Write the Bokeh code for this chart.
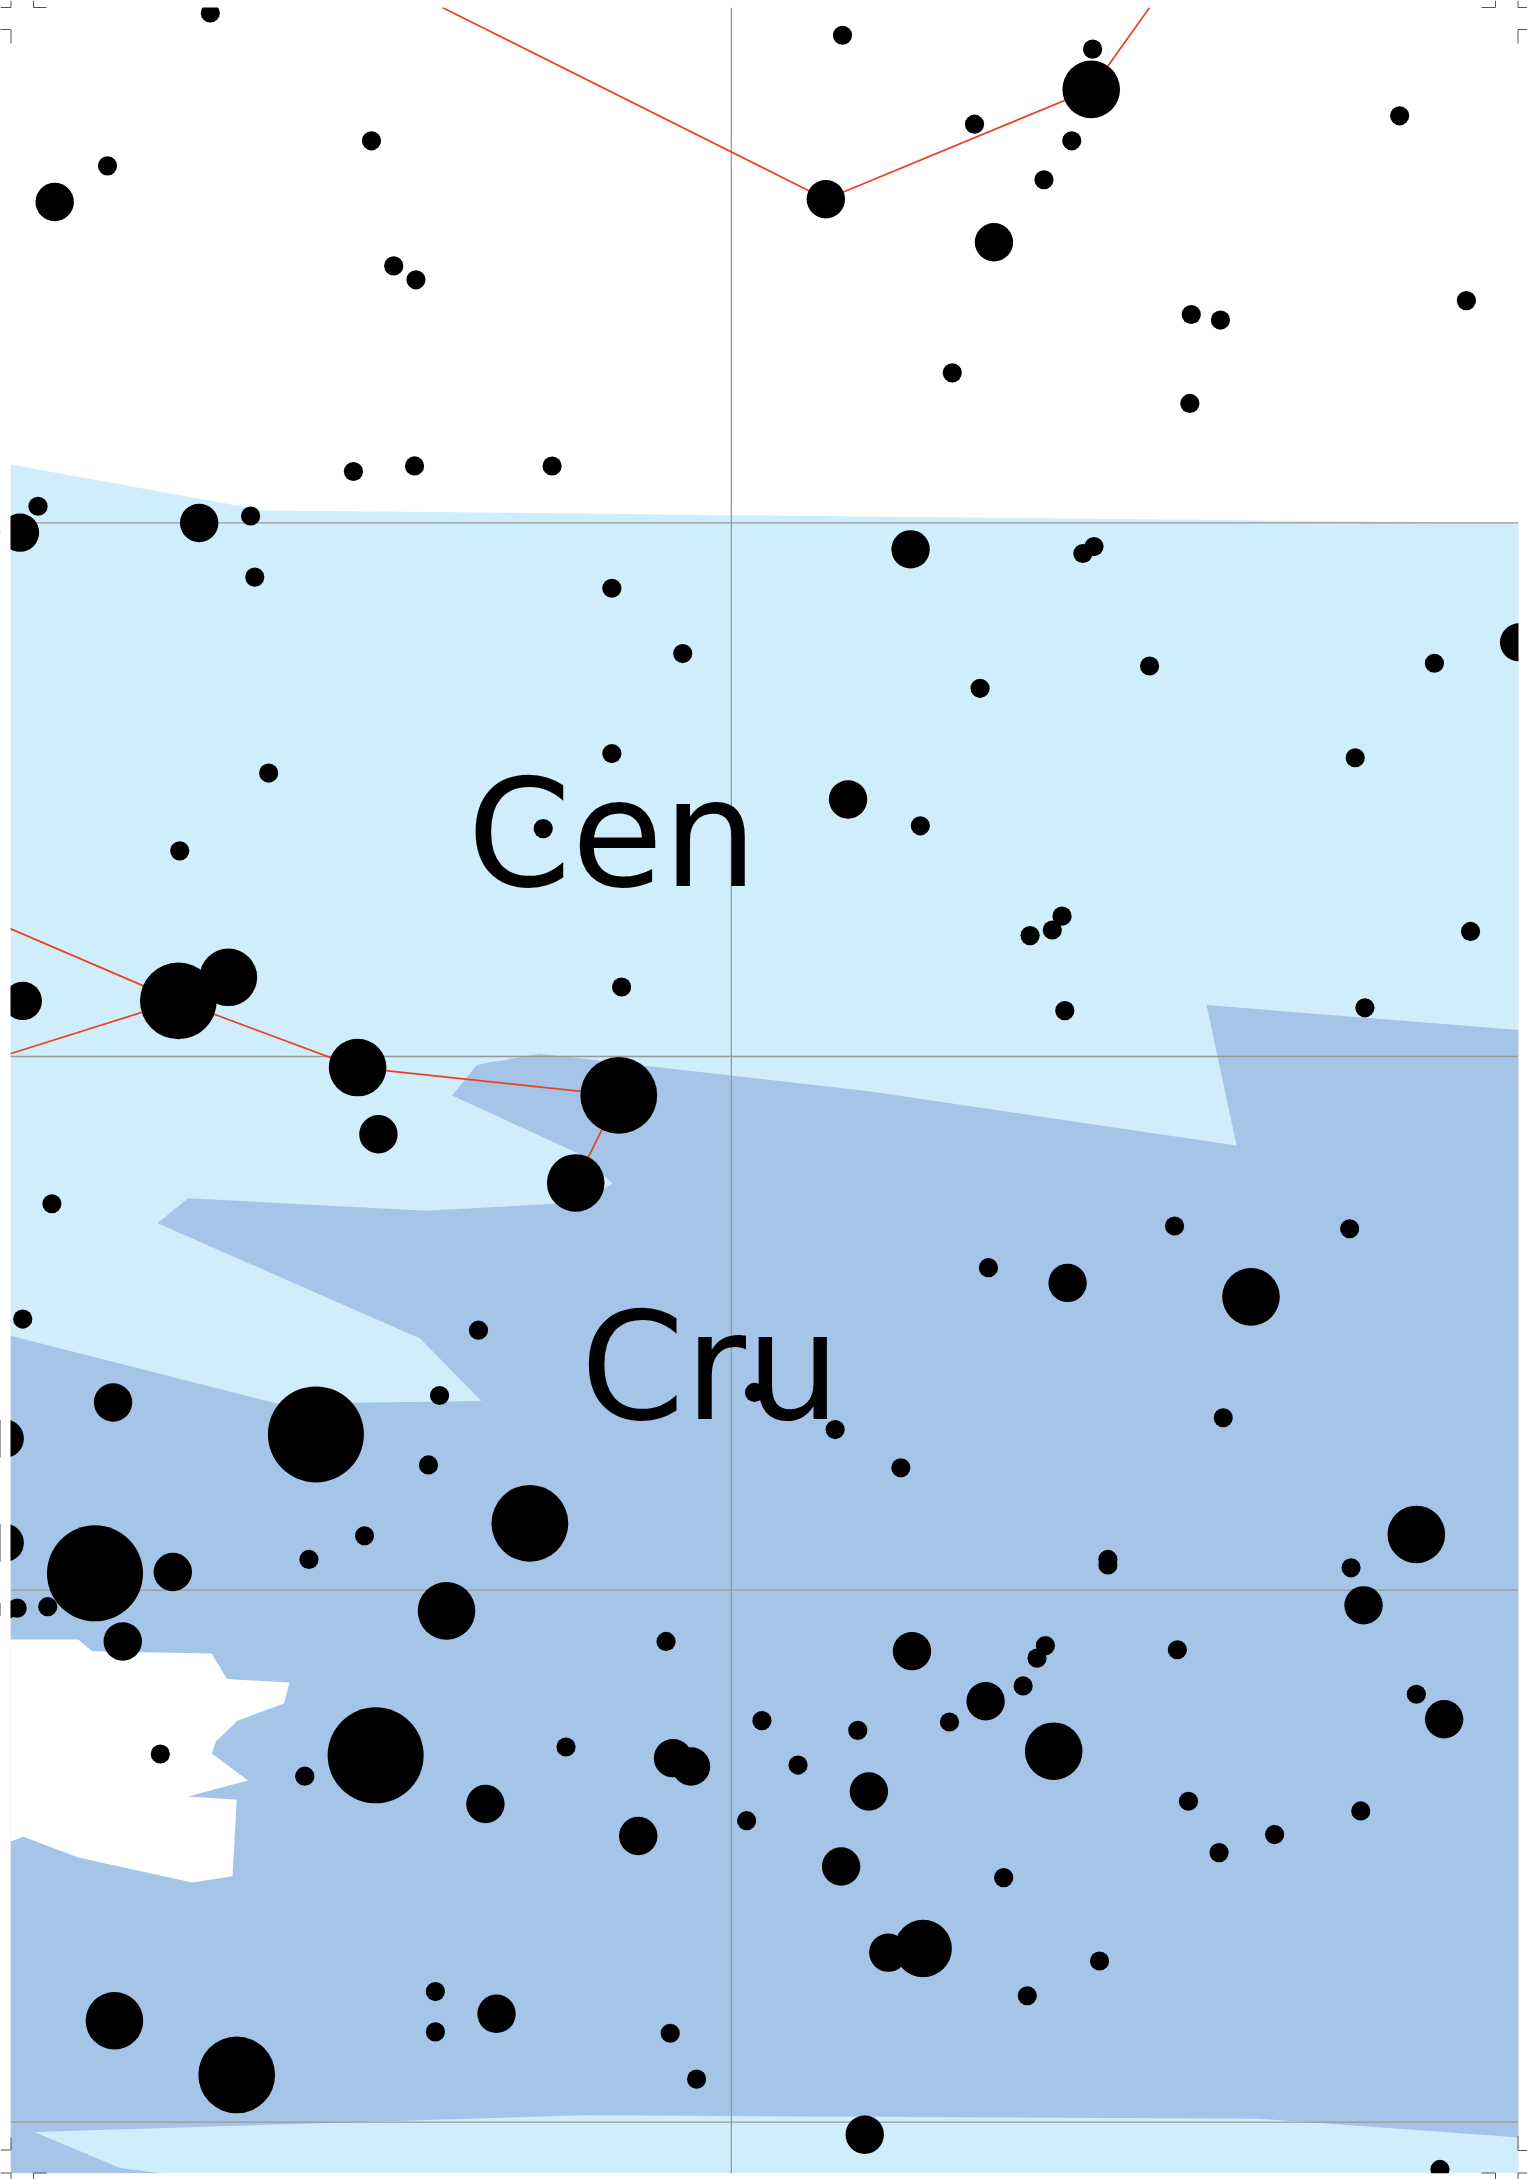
from bokeh.plotting import figure
from bokeh.models import Range1d, ColumnDataSource
from bokeh.core.properties import value
from bokeh.embed import file_html
from bokeh.resources import INLINE

# chart units: the picture's own coordinates, 1099 wide
PX = 1099 / 1527
W, H = 1099, 2179 * PX
L, R, T, B = 10 * PX, 1518 * PX, 7 * PX, 2172.7 * PX

star_x = [151,606,786,785,701,771,751,1007,267,77,39,594,715,283,299,857,878,1055,685,856,
          254,298,397,27,14,143,180,183,440,655,787,779,491,705,827,1032,1093,440,193,975,610,662,390.6,129,1058,764,757,741,
          164,128,16,447,766,982,257,445,272,414,37,711,845,971,768,900,16,344,
          81,227,316,542.7,600.7,880,648,3,308,381,1019,262,222,3,68,124,797,797,972,321,981,34,12,5,88,479,656,752,746,847,736,709,1019,1039,
          548,683,617,758,407,115,270,219,484,497,574,625,349,855,979,537,459,917,877,605,722,639,664,791,739,313,357,82,313,482,170,501,622,1036]
star_y = [9,25,35,64,89,101,129,83,101,119,145,143,174,191,201,226,230,216,268,290,
          339,335,335,364,383,376,371,415,423,395,393,398,470,495,479,477,462,542,556,545,575,594,596,612,670,659,669,673,
          703,720,720,710,727,725,768,788,816,851,866,912,882,884,923,933,949,957,
          1009,1032,1004,1001.8,1028.5,1020,1056,1035,1054,1096,1104,1105,1122,1110,1132,1131,1122,1126,1128,1159,1155,1156,1157,1158,1181,1181,1188,1184,1193,1187,1213,1224,1219,1237,
          1238,1239,1245,1260,1257,1262,1263,1278,1265,1271,1270,1289,1298,1296,1303,1310,1321,1320,1333,1343,1351,1405,1402,1411,1436,1433,1449,1454,1462,1463,1493,1496,1536,1561]
star_class = [1,1,1,3,1,1,1,1,1,1,2,2,2,1,1,1,1,1,1,1,
              1,1,1,1,2,2,1,1,1,2,1,1,1,1,1,1,2,1,1,1,2,1,1,1,1,1,1,1,
              3,4,2,1,1,1,3,4,2,3,1,1,1,1,2,3,1,1,
              2,5,1,1,1,1,1,2,1,4,3,1,1,2,5,2,1,1,1,3,2,1,1,1,2,1,2,1,1,1,1,2,1,2,
              1,1,1,3,1,1,5,1,2,2,1,2,2,1,1,1,2,1,1,2,1,2,3,1,1,1,2,3,1,1,4,1,2,1]

grid_y = [376, 760, 1144, 1527]
grid_x = [526]

cen_x = [7.2, 190, 1093, 1093, 7.2]
cen_y = [334, 367, 376, 1564, 1564]

cru_x = [868, 1093, 1093, 905, 420, 24.5, 86, 117, 7.2, 7.2, 200, 346, 302, 113, 135, 306, 418, 440.5, 417.4, 325, 343, 388, 625, 889.6]
cru_y = [723, 741, 1538, 1524.5, 1522, 1534, 1560, 1564, 1564, 961, 1010, 1008, 963, 880, 862, 871, 865, 851.5, 830.6, 788, 766, 758, 785, 824]

hole_x = [7.2,56,66,152,163,208,204,170.6,155,152,178,135,170,167,138,56,16.5,7.2]
hole_y = [1179.6,1179.6,1188,1189.7,1208,1210.6,1225.7,1238,1253,1261.6,1281,1292.6,1295,1350,1354.5,1336.5,1321.5,1325]

line_xs = [[318,594,785,827],[7,128,257,445,414],[7,128]]
line_ys = [[5,143,64,5],[668,720,768,788,851],[758,720]]

labels = ["Cen", "Cru"]
label_x = [336, 417.5]
label_y = [600.5, 983.5]

# crop marks, in page pixels
mark_xs = [[0,10.5,10.5],[33,33,46],[0,10.5,10.5],
           [1481,1495,1495],[1517.5,1517.5,1527],[1517.5,1517.5,1527],
           [1517.5,1517.5,1527],[1481,1495,1495],[1527,1517.5,1517.5],
           [0,10.5,10.5],[0,10.5,10.5],[46,33,33]]
mark_ys = [[7,7,0],[0,7,7],[29,29,43],
           [7,7,0],[0,7,7],[43,29,29],
           [2136,2150,2150],[2172.5,2172.5,2179],[2172.5,2172.5,2179],
           [2149.5,2149.5,2137],[2172.5,2172.5,2179],[2172.5,2172.5,2179]]

p = figure(width=1527, height=2179, x_range=Range1d(0, W), y_range=Range1d(H, 0),
           x_axis_location=None, y_axis_location=None, toolbar_location=None,
           output_backend="svg", min_border=0, outline_line_color=None,
           background_fill_color="white", border_fill_color="white")
p.grid.visible = False

p.patch(cen_x, cen_y, fill_color="#d0edfc", line_color=None)
p.patch(cru_x, cru_y, fill_color="#a5c5e8", line_color=None)
p.patch(hole_x, hole_y, fill_color="white", line_color=None)

p.multi_line([[L, R] for _ in grid_y], [[v, v] for v in grid_y], line_color="#999999", line_width=1.3)
p.multi_line([[v, v] for v in grid_x], [[T, B] for _ in grid_x], line_color="#999999", line_width=1.3)
p.multi_line(line_xs, line_ys, line_color="#ea4224", line_width=1.7)

p.text(label_x, label_y, text=labels, text_font=value("DejaVu Sans"), text_font_size="149px",
       text_color="black", text_baseline="alphabetic", text_align="left")

src = ColumnDataSource(dict(x=star_x, y=star_y, s=[19.2 * c for c in star_class]))
p.scatter("x", "y", size="s", source=src, marker="circle", fill_color="black", line_color=None)

# page margin outside the map's frame
p.quad(left=[0, R, 0, 0], right=[L, W, W, W], top=[0, 0, 0, B], bottom=[H, H, T, H],
       fill_color="white", line_color=None)
p.multi_line([[v * PX for v in s] for s in mark_xs], [[v * PX for v in s] for s in mark_ys],
             line_color="#555555", line_width=1)

open("out.html", "w").write(file_html(p, INLINE))
